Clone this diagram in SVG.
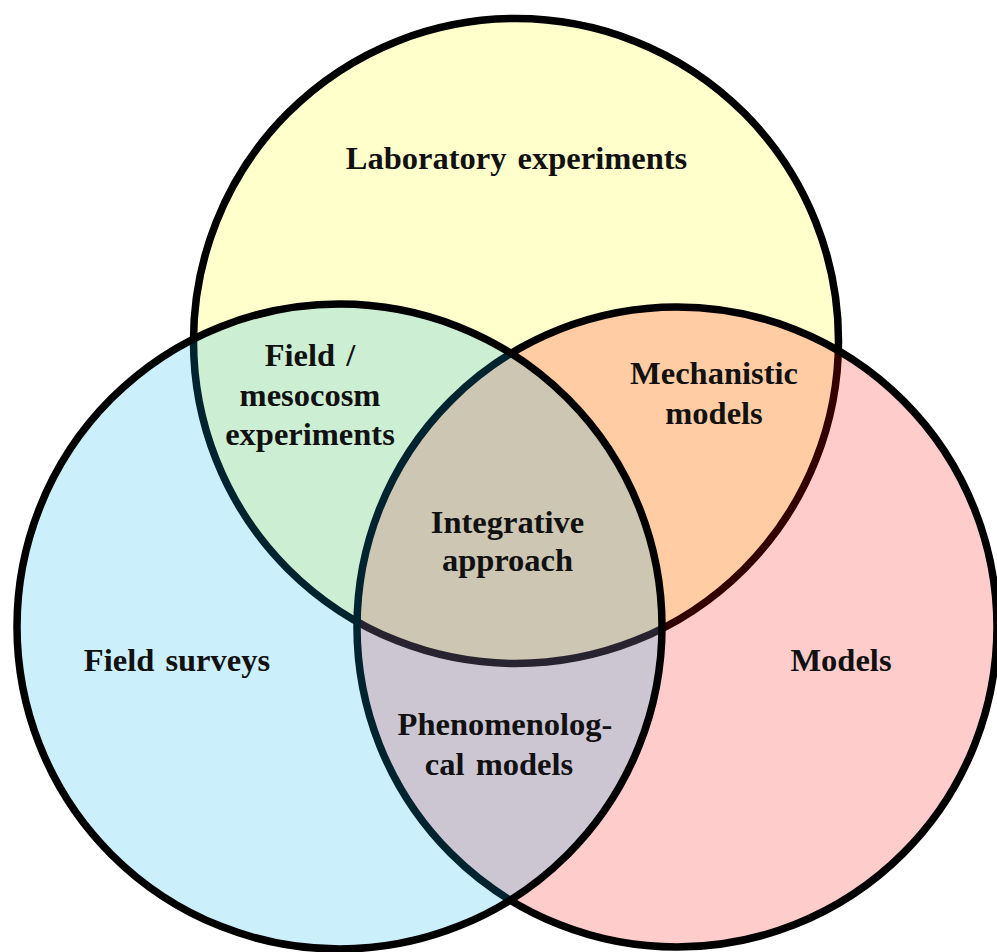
<svg xmlns="http://www.w3.org/2000/svg" width="997" height="952" viewBox="0 0 997 952">
<style>
.c{stroke:#000;stroke-width:7.5}
.t{font-family:"Liberation Serif","Times New Roman",serif;font-weight:bold;font-size:32.5px;fill:#111;text-anchor:middle;word-spacing:3px}
</style>
<rect width="997" height="952" fill="#fff"/>
<g id="lab"><circle class="c" cx="516" cy="341" r="322.5" fill="rgba(255,255,0,0.2)"/></g>
<g id="models"><circle class="c" cx="677" cy="627" r="320" fill="rgba(255,0,0,0.2)"/></g>
<g id="field"><circle class="c" cx="339.5" cy="626.5" r="322.5" fill="rgba(0,176,240,0.2)"/></g>
<g id="labels">
<text class="t" x="516.5" y="169">Laboratory experiments</text>
<text class="t" x="310" y="366">Field /</text>
<text class="t" x="310" y="406">mesocosm</text>
<text class="t" x="310" y="445">experiments</text>
<text class="t" x="714" y="384">Mechanistic</text>
<text class="t" x="714" y="424">models</text>
<text class="t" x="507.5" y="533">Integrative</text>
<text class="t" x="507.5" y="571">approach</text>
<text class="t" x="177" y="671">Field surveys</text>
<text class="t" x="841" y="671">Models</text>
<text class="t" x="505" y="735">Phenomenolog-</text>
<text class="t" x="499" y="775">cal models</text>
</g>
</svg>
